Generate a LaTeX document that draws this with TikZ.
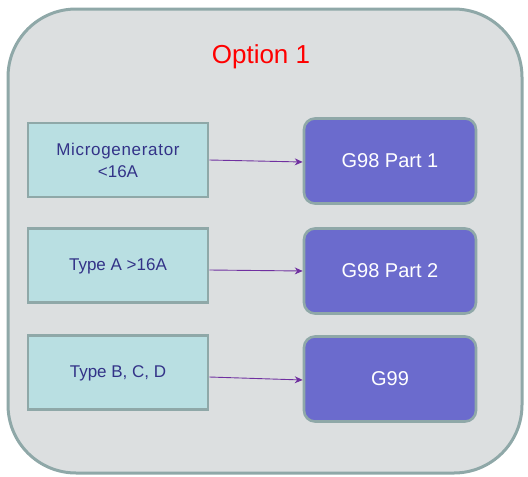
\documentclass[tikz,border=0pt]{standalone}
\usepackage{fontspec}
\setmainfont{Liberation Sans}
\definecolor{panelfill}{HTML}{DCDFE0}
\definecolor{edgegray}{HTML}{8FA8A8}
\definecolor{srcfill}{HTML}{B9DFE2}
\definecolor{srctext}{HTML}{333388}
\definecolor{stdfill}{HTML}{6B6BCD}
\definecolor{linkcol}{HTML}{7030A0}
\usetikzlibrary{arrows.meta}
\begin{document}
\begin{tikzpicture}[x=1pt,y=-1pt,
  srcbox/.style={draw=edgegray,line width=2.6pt,fill=srcfill,minimum width=180pt,minimum height=74pt,
    text=srctext,font=\fontsize{17}{22}\selectfont,align=center,inner sep=0pt},
  oneline/.style={text depth=0pt,text height=10pt},
  stdbox/.style={draw=edgegray,line width=2.6pt,fill=stdfill,rounded corners=11pt,minimum width=172pt,minimum height=85pt,
    text=white,font=\fontsize{20}{24}\selectfont,inner sep=0pt},
  link/.style={draw=linkcol,line width=0.9pt,-{Stealth[length=8pt,width=7pt]}}]
\useasboundingbox (0,0) rectangle (528,477);
% outer panel
\draw[draw=edgegray,line width=3pt,fill=panelfill,rounded corners=68pt] (8,9) rectangle (522,473);
\node[text=red,font=\fontsize{26}{30}\selectfont] (title) at (261,57) {Option 1};
% source boxes
\node[srcbox] (micro) at (118,160) {\addfontfeatures{LetterSpace=4}Microgenerator\\<16A};
\node[srcbox,oneline] (typea) at (118,265.5) {Type A >16A};
\node[srcbox,oneline] (typeb) at (118,372.5) {Type B, C, D};
% standard boxes
\node[stdbox] (g1) at (390,161) {G98 Part 1};
\node[stdbox] (g2) at (390,271) {G98 Part 2};
\node[stdbox] (g3) at (390,379) {G99};
% links (yshift is measured upwards on the page)
\draw[link] (micro.east) -- ([yshift=-1pt]g1.west);
\draw[link] ([yshift=-4.5pt]typea.east) -- (g2.west);
\draw[link] ([yshift=-4.5pt]typeb.east) -- ([yshift=-1pt]g3.west);
\end{tikzpicture}
\end{document}
